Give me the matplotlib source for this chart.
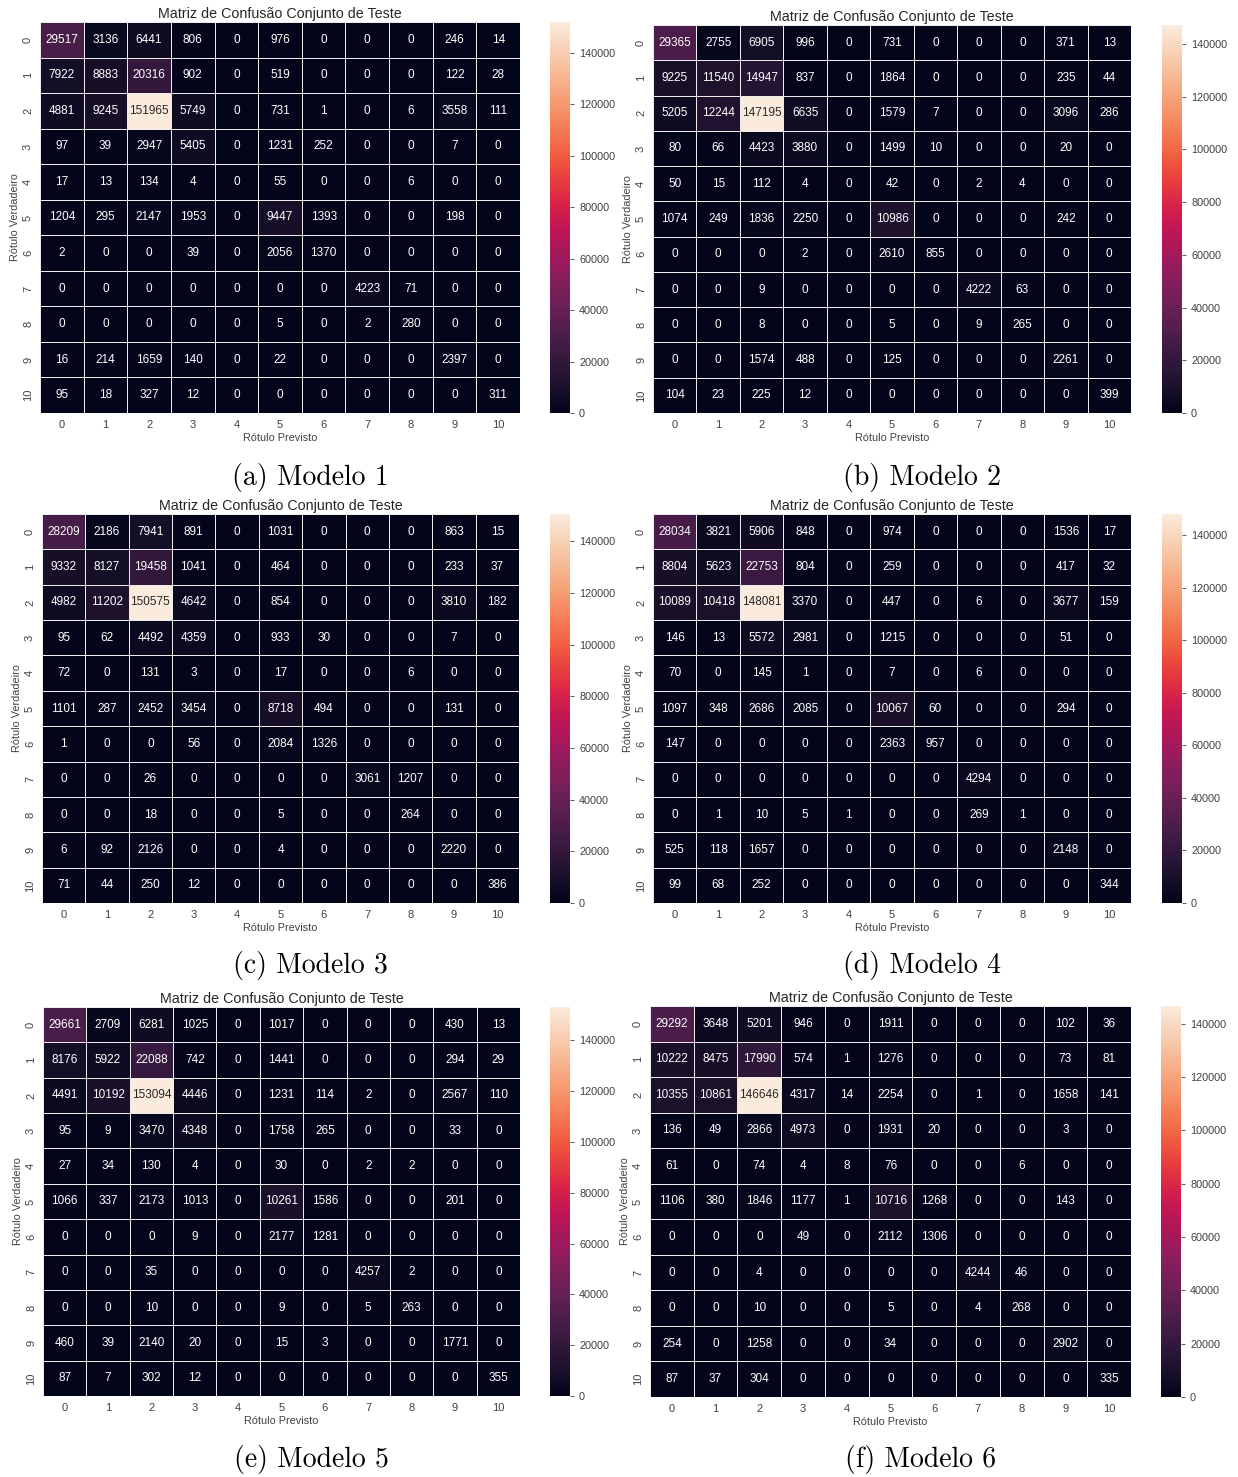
import matplotlib
matplotlib.use("Agg")
import matplotlib.pyplot as plt
import numpy as np
import seaborn as sns

classes = list(range(11))

m1 = [[29517, 3136, 6441, 806, 0, 976, 0, 0, 0, 246, 14],
      [7922, 8883, 20316, 902, 0, 519, 0, 0, 0, 122, 28],
      [4881, 9245, 151965, 5749, 0, 731, 1, 0, 6, 3558, 111],
      [97, 39, 2947, 5405, 0, 1231, 252, 0, 0, 7, 0],
      [17, 13, 134, 4, 0, 55, 0, 0, 6, 0, 0],
      [1204, 295, 2147, 1953, 0, 9447, 1393, 0, 0, 198, 0],
      [2, 0, 0, 39, 0, 2056, 1370, 0, 0, 0, 0],
      [0, 0, 0, 0, 0, 0, 0, 4223, 71, 0, 0],
      [0, 0, 0, 0, 0, 5, 0, 2, 280, 0, 0],
      [16, 214, 1659, 140, 0, 22, 0, 0, 0, 2397, 0],
      [95, 18, 327, 12, 0, 0, 0, 0, 0, 0, 311]]

m2 = [[29365, 2755, 6905, 996, 0, 731, 0, 0, 0, 371, 13],
      [9225, 11540, 14947, 837, 0, 1864, 0, 0, 0, 235, 44],
      [5205, 12244, 147195, 6635, 0, 1579, 7, 0, 0, 3096, 286],
      [80, 66, 4423, 3880, 0, 1499, 10, 0, 0, 20, 0],
      [50, 15, 112, 4, 0, 42, 0, 2, 4, 0, 0],
      [1074, 249, 1836, 2250, 0, 10986, 0, 0, 0, 242, 0],
      [0, 0, 0, 2, 0, 2610, 855, 0, 0, 0, 0],
      [0, 0, 9, 0, 0, 0, 0, 4222, 63, 0, 0],
      [0, 0, 8, 0, 0, 5, 0, 9, 265, 0, 0],
      [0, 0, 1574, 488, 0, 125, 0, 0, 0, 2261, 0],
      [104, 23, 225, 12, 0, 0, 0, 0, 0, 0, 399]]

m3 = [[28209, 2186, 7941, 891, 0, 1031, 0, 0, 0, 863, 15],
      [9332, 8127, 19458, 1041, 0, 464, 0, 0, 0, 233, 37],
      [4982, 11202, 150575, 4642, 0, 854, 0, 0, 0, 3810, 182],
      [95, 62, 4492, 4359, 0, 933, 30, 0, 0, 7, 0],
      [72, 0, 131, 3, 0, 17, 0, 0, 6, 0, 0],
      [1101, 287, 2452, 3454, 0, 8718, 494, 0, 0, 131, 0],
      [1, 0, 0, 56, 0, 2084, 1326, 0, 0, 0, 0],
      [0, 0, 26, 0, 0, 0, 0, 3061, 1207, 0, 0],
      [0, 0, 18, 0, 0, 5, 0, 0, 264, 0, 0],
      [6, 92, 2126, 0, 0, 4, 0, 0, 0, 2220, 0],
      [71, 44, 250, 12, 0, 0, 0, 0, 0, 0, 386]]

m4 = [[28034, 3821, 5906, 848, 0, 974, 0, 0, 0, 1536, 17],
      [8804, 5623, 22753, 804, 0, 259, 0, 0, 0, 417, 32],
      [10089, 10418, 148081, 3370, 0, 447, 0, 6, 0, 3677, 159],
      [146, 13, 5572, 2981, 0, 1215, 0, 0, 0, 51, 0],
      [70, 0, 145, 1, 0, 7, 0, 6, 0, 0, 0],
      [1097, 348, 2686, 2085, 0, 10067, 60, 0, 0, 294, 0],
      [147, 0, 0, 0, 0, 2363, 957, 0, 0, 0, 0],
      [0, 0, 0, 0, 0, 0, 0, 4294, 0, 0, 0],
      [0, 1, 10, 5, 1, 0, 0, 269, 1, 0, 0],
      [525, 118, 1657, 0, 0, 0, 0, 0, 0, 2148, 0],
      [99, 68, 252, 0, 0, 0, 0, 0, 0, 0, 344]]

m5 = [[29661, 2709, 6281, 1025, 0, 1017, 0, 0, 0, 430, 13],
      [8176, 5922, 22088, 742, 0, 1441, 0, 0, 0, 294, 29],
      [4491, 10192, 153094, 4446, 0, 1231, 114, 2, 0, 2567, 110],
      [95, 9, 3470, 4348, 0, 1758, 265, 0, 0, 33, 0],
      [27, 34, 130, 4, 0, 30, 0, 2, 2, 0, 0],
      [1066, 337, 2173, 1013, 0, 10261, 1586, 0, 0, 201, 0],
      [0, 0, 0, 9, 0, 2177, 1281, 0, 0, 0, 0],
      [0, 0, 35, 0, 0, 0, 0, 4257, 2, 0, 0],
      [0, 0, 10, 0, 0, 9, 0, 5, 263, 0, 0],
      [460, 39, 2140, 20, 0, 15, 3, 0, 0, 1771, 0],
      [87, 7, 302, 12, 0, 0, 0, 0, 0, 0, 355]]

m6 = [[29292, 3648, 5201, 946, 0, 1911, 0, 0, 0, 102, 36],
      [10222, 8475, 17990, 574, 1, 1276, 0, 0, 0, 73, 81],
      [10355, 10861, 146646, 4317, 14, 2254, 0, 1, 0, 1658, 141],
      [136, 49, 2866, 4973, 0, 1931, 20, 0, 0, 3, 0],
      [61, 0, 74, 4, 8, 76, 0, 0, 6, 0, 0],
      [1106, 380, 1846, 1177, 1, 10716, 1268, 0, 0, 143, 0],
      [0, 0, 0, 49, 0, 2112, 1306, 0, 0, 0, 0],
      [0, 0, 4, 0, 0, 0, 0, 4244, 46, 0, 0],
      [0, 0, 10, 0, 0, 5, 0, 4, 268, 0, 0],
      [254, 0, 1258, 0, 0, 34, 0, 0, 0, 2902, 0],
      [87, 37, 304, 0, 0, 0, 0, 0, 0, 0, 335]]

matrizes = [m1, m2, m3, m4, m5, m6]
legendas = ["(a) Modelo 1", "(b) Modelo 2", "(c) Modelo 3",
            "(d) Modelo 4", "(e) Modelo 5", "(f) Modelo 6"]

plt.rcParams['font.family'] = ['Liberation Sans', 'DejaVu Sans']

W, H = 1238, 1477
fig = plt.figure(figsize=(W / 100, H / 100), dpi=100)

# posicoes em pixels: (esq, dir, topo, base) do heatmap, esq da colorbar, y da legenda
layout = [(40, 520, 22, 413, 550, 477),
          (653, 1131, 25, 413, 1162, 477),
          (42, 519, 514, 903, 550, 966),
          (653, 1131, 514, 903, 1162, 966),
          (43, 520, 1007, 1396, 550, 1459),
          (650, 1131, 1006, 1397, 1161, 1459)]


def px(l, r, t, b):
    return [l / W, 1 - b / H, (r - l) / W, (b - t) / H]


for i, m in enumerate(matrizes):
    l, r, t, b, cl, ly = layout[i]
    ax = fig.add_axes(px(l, r, t, b))
    cax = fig.add_axes(px(cl, cl + 20, t, b))
    sns.heatmap(np.array(m), annot=True, fmt='d', ax=ax, cbar_ax=cax,
                cmap='rocket', linewidths=0.6, linecolor='#ececec',
                xticklabels=classes, yticklabels=classes,
                annot_kws={'size': 8.5})
    ax.set_title("Matriz de Confusão Conjunto de Teste", fontsize=10.3,
                 color='#262626', pad=3)
    ax.set_xlabel("Rótulo Previsto", fontsize=7.8, color='#404040', labelpad=2)
    ax.set_ylabel("Rótulo Verdadeiro", fontsize=7.8, color='#404040', labelpad=2)
    ax.tick_params(length=0, labelsize=8, labelcolor='#404040', pad=5)
    plt.setp(ax.get_yticklabels(), rotation=90, va='center')
    plt.setp(ax.get_xticklabels(), rotation=0)
    cax.tick_params(labelsize=7.8, labelcolor='#404040', length=3,
                    color='#404040', width=0.6)
    cax.set_yticks(np.arange(0, 160000, 20000))
    fig.text(((l + r) / 2 + 30) / W, 1 - ly / H, legendas[i], family='cmr10',
             fontsize=20, ha='center', va='center')

fig.savefig("out.png", dpi=100)
